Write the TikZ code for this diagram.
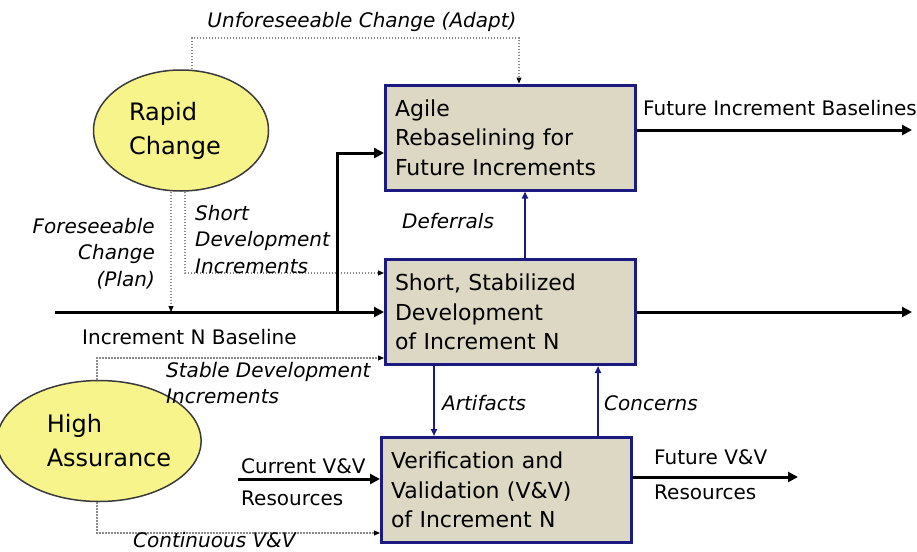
\documentclass[tikz,border=0pt]{standalone}
\usepackage{fontspec}
\setmainfont{DejaVu Sans}
\usetikzlibrary{shapes.geometric,arrows.meta}
\definecolor{boxfill}{HTML}{DDD8C4}
\definecolor{boxline}{HTML}{1A1A80}
\definecolor{ellfill}{HTML}{F8F48C}
\definecolor{ellline}{HTML}{3A3A3A}
\definecolor{dotgray}{HTML}{8A8A8A}
\begin{document}
\begin{tikzpicture}[x=1pt,y=-1pt,
  procbox/.style={draw=boxline, line width=3pt, fill=boxfill, inner xsep=9.5pt, inner ysep=0pt,
    text width=231pt, align=left, minimum height=105pt, font=\fontsize{22}{29.5}\selectfont},
  goal/.style={ellipse, draw=ellline, line width=1.5pt, fill=ellfill, inner sep=0pt,
    minimum width=175pt, minimum height=121pt, align=left, font=\fontsize{24}{34}\selectfont},
  lab/.style={inner sep=0pt, font=\fontsize{20}{26.5}\selectfont},
  ilab/.style={inner sep=0pt, font=\fontsize{20}{26.5}\selectfont\itshape},
  flow/.style={line width=3pt, -{Triangle[length=10pt,width=10pt]}},
  link/.style={draw=boxline, line width=1.8pt, -{Triangle[length=7pt,width=6pt]}},
  dotflow/.style={draw=dotgray, line width=1.1pt, dash pattern=on 1.5pt off 1.5pt,
    -{Triangle[length=6pt,width=5pt,color=black]}},
]
\useasboundingbox (0,0) rectangle (917,551);

% nodes
\node[procbox] (ag) at (510.5,137.5) {Agile\\Rebaselining for\\Future Increments};
\node[procbox] (sd) at (510.5,312) {Short, Stabilized\\Development\\of Increment N};
\node[procbox] (vv) at (506.5,490) {Verification and\\Validation (V\&V)\\of Increment N};
\node[goal] (rc) at (181,130.5) {Rapid\\Change\hspace*{12pt}};
\node[goal] (ha) at (99,441) {\hspace*{20pt}High\\\hspace*{20pt}Assurance};

% coordinates
\coordinate (u1) at (192,38);
\coordinate (u2) at (519,38);
\coordinate (f1) at (171,312);
\coordinate (s1) at (185,273);
\coordinate (m0) at (55,312);
\coordinate (b1) at (337,312);
\coordinate (b2) at (337,153);
\coordinate (o1) at (912,312);
\coordinate (o2) at (912,130);
\coordinate (d1) at (525,0);
\coordinate (a1) at (434,0);
\coordinate (c1) at (598,0);
\coordinate (st) at (97,358);
\coordinate (cv) at (97,533);
\coordinate (cr) at (238,479);
\coordinate (fv) at (798,477);

% connectors
\draw[dotflow] (rc.north -| u1) -- (u1) -- (u2) -- (ag.north -| u2);
\draw[dotflow] (rc.south -| f1) -- (f1);
\draw[dotflow] (rc.south -| s1) -- (s1) -- (s1 -| sd.west);
\draw[dotflow] (ha.north -| st) -- (st) -- (st -| sd.west);
\draw[dotflow] (ha.south -| cv) -- (cv) -- (cv -| vv.west);

\draw[flow] (m0) -- (m0 -| sd.west);
\draw[flow] (b1) -- (b2) -- (b2 -| ag.west);
\draw[flow] (sd.east |- o1) -- (o1);
\draw[flow] (ag.east |- o2) -- (o2);
\draw[flow] (cr) -- (cr -| vv.west);
\draw[flow] (vv.east |- fv) -- (fv);

\draw[link] (sd.north -| d1) -- (ag.south -| d1);
\draw[link] (sd.south -| a1) -- (vv.north -| a1);
\draw[link] (vv.north -| c1) -- (sd.south -| c1);

% labels
\node[ilab, anchor=base] (lu) at (362,28) {Unforeseeable Change (Adapt)};
\node[ilab, align=right, anchor=north east] (lf) at (155,218) {Foreseeable\\Change\\(Plan)};
\node[ilab, align=left, anchor=north west] (ls) at (195,205) {Short\\Development\\Increments};
\node[ilab, anchor=base west] (ld) at (402,228) {Deferrals};
\node[lab, anchor=base west] (lb) at (82,344) {Increment N Baseline};
\node[ilab, align=left, anchor=north west] (lsd) at (166,362) {Stable Development\\Increments};
\node[ilab, anchor=base west] (la) at (442,410) {Artifacts};
\node[ilab, anchor=base west] (lc) at (604,410) {Concerns};
\node[lab, anchor=base west] (lcv) at (241,473) {Current V\&V};
\node[lab, anchor=base west] (lcr) at (241,505) {Resources};
\node[lab, anchor=base west] (lfv) at (654,464) {Future V\&V};
\node[lab, anchor=base west] (lfr) at (654,499) {Resources};
\node[lab, anchor=base west] (lfb) at (643,115) {Future Increment Baselines};
\node[ilab, anchor=base west] (lcn) at (133,547) {Continuous V\&V};
\end{tikzpicture}
\end{document}
